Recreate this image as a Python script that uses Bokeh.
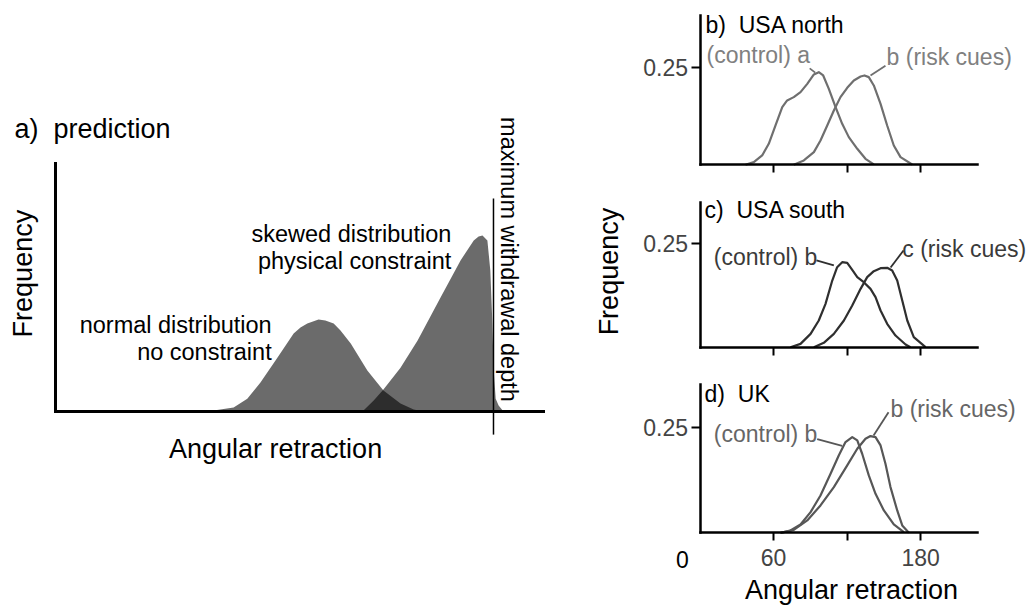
import math
from bokeh.plotting import figure
from bokeh.models import Range1d, FixedTicker, Label
from bokeh.layouts import row, column
from bokeh.embed import file_html
from bokeh.resources import INLINE

FONT = "Liberation Sans"
GAP = "\u00a0 "  # wide gap after panel letters

# ---------------- data ----------------
# panel a (schematic prediction): x in arbitrary units (0..100), y relative frequency (0..1)
a_normal_x = [30.7, 32.4, 36.5, 39.3, 42.0, 45.5, 48.8, 50.2, 51.6, 53.9, 55.3, 57.0, 58.4, 60.5, 63.9, 67.2, 70.7, 73.4, 75.4]
a_normal_y = [0.0, 0.004, 0.016, 0.052, 0.117, 0.218, 0.315, 0.339, 0.355, 0.371, 0.367, 0.355, 0.327, 0.274, 0.165, 0.085, 0.032, 0.008, 0.0]
a_skew_x = [62.9, 65.2, 67.2, 70.7, 74.2, 78.9, 83.0, 85.7, 86.7, 87.5, 88.5, 89.1, 89.5, 89.8, 90.2, 90.8, 91.8]
a_skew_y = [0.0, 0.044, 0.089, 0.177, 0.286, 0.46, 0.609, 0.69, 0.706, 0.71, 0.69, 0.569, 0.367, 0.165, 0.052, 0.024, 0.0]
a_max_depth = 89.75

# panel b: USA north
b_ctrl_x = [37.1, 43.9, 50.7, 56.1, 61.6, 67.1, 71.1, 76.5, 82.0, 87.5, 92.9, 96.9, 100.5, 105.1, 110.6, 116.0, 121.4, 128.3, 135.0, 141.8]
b_ctrl_y = [0.0, 0.0068, 0.0239, 0.0538, 0.1007, 0.1477, 0.1648, 0.1733, 0.1861, 0.2074, 0.2314, 0.2373, 0.2288, 0.1946, 0.1477, 0.105, 0.0709, 0.041, 0.0154, 0.0009]
b_risk_x = [76.5, 84.7, 92.9, 98.3, 103.8, 109.2, 114.6, 120.1, 125.5, 131.0, 134.2, 137.7, 141.8, 147.3, 152.7, 158.1, 163.6, 173.1]
b_risk_y = [0.0, 0.0111, 0.0324, 0.0623, 0.1007, 0.1392, 0.1733, 0.1972, 0.216, 0.2262, 0.2288, 0.2245, 0.2032, 0.1562, 0.1007, 0.0495, 0.0196, 0.0009]

# panel c: USA south
c_ctrl_x = [73.8, 82.0, 90.2, 96.9, 102.4, 107.9, 111.9, 116.0, 120.1, 124.2, 128.3, 133.6, 139.1, 143.2, 147.3, 152.7, 159.5, 167.7, 171.7]
c_ctrl_y = [0.0, 0.0081, 0.0323, 0.0646, 0.1049, 0.1614, 0.1937, 0.2058, 0.2042, 0.1872, 0.1695, 0.1574, 0.1412, 0.1211, 0.0888, 0.0565, 0.0282, 0.0065, 0.0]
c_risk_x = [92.9, 101.0, 109.2, 117.4, 124.2, 131.0, 136.4, 141.8, 147.3, 152.7, 156.8, 160.9, 165.0, 169.1, 174.4, 184.0]
c_risk_y = [0.0, 0.0105, 0.0323, 0.0646, 0.1009, 0.1412, 0.1695, 0.184, 0.1913, 0.1921, 0.1856, 0.1614, 0.113, 0.0646, 0.0242, 0.0]

# panel d: UK
d_ctrl_x = [65.7, 73.8, 82.0, 90.2, 98.3, 106.5, 113.2, 118.7, 124.2, 128.3, 132.3, 137.7, 143.2, 150.0, 158.1, 166.3]
d_ctrl_y = [0.0, 0.0056, 0.0199, 0.0492, 0.0889, 0.1405, 0.1842, 0.216, 0.2279, 0.2199, 0.1882, 0.1366, 0.0929, 0.0532, 0.0199, 0.0016]
d_risk_x = [65.7, 76.5, 87.5, 98.3, 109.2, 120.1, 128.3, 135.0, 139.1, 143.2, 147.3, 151.3, 155.4, 160.9, 165.0, 170.4]
d_risk_y = [0.0, 0.0071, 0.0294, 0.0651, 0.1088, 0.1604, 0.2001, 0.2239, 0.2303, 0.2279, 0.208, 0.1644, 0.1088, 0.0532, 0.0175, 0.0]

x_axis_max = 226
x_ticks_labelled = [60, 180]
x_ticks_unlabelled = [120]
y_ticks = [0.25]

# ---------------- helpers ----------------
def lab(p, x, y, text, size="23px", color="black", align="left", baseline="middle", angle=0.0):
    p.add_layout(Label(x=x, y=y, text=text, text_font=FONT, text_font_size=size, text_color=color,
                       text_align=align, text_baseline=baseline, angle=angle))


def make_fig(width, height, xr, yr):
    p = figure(width=width, height=height, x_range=Range1d(*xr), y_range=Range1d(*yr),
               min_border=0, min_border_left=0, min_border_right=0, min_border_top=0, min_border_bottom=0,
               output_backend="svg", toolbar_location=None)
    p.outline_line_color = None
    p.grid.visible = False
    p.background_fill_color = "white"
    p.border_fill_color = "white"
    return p


def style_axes(p, lw, xbounds, ybounds):
    p.xaxis.fixed_location = 0
    p.yaxis.fixed_location = 0
    p.xaxis.bounds = xbounds
    p.yaxis.bounds = ybounds
    for ax in (p.xaxis, p.yaxis):
        ax.axis_line_width = lw
        ax.axis_line_color = "black"
        ax.axis_line_cap = "square"
        ax.major_label_text_font = FONT
        ax.major_tick_in = 0
        ax.minor_tick_in = 0
        ax.major_tick_line_width = 2
        ax.minor_tick_line_width = 2
        ax.major_tick_line_color = "black"
        ax.minor_tick_line_color = "black"


# ---------------- panel a ----------------
pa = make_fig(580, 608, (-11.27, 107.58), (-0.794, 1.657))
style_axes(pa, 3, (0, 100), (0, 1))
for ax in (pa.xaxis, pa.yaxis):
    ax.ticker = FixedTicker(ticks=[], minor_ticks=[])

pa.varea(x=a_normal_x, y1=0, y2=a_normal_y, fill_color="black", fill_alpha=0.58)
pa.varea(x=a_skew_x, y1=0, y2=a_skew_y, fill_color="black", fill_alpha=0.58)
pa.segment(x0=[a_max_depth], y0=[-0.093], x1=[a_max_depth], y1=[0.859], line_color="black", line_width=1.5)

lab(pa, -8.4, 1.141, "a)" + GAP + "prediction", size="27px")
lab(pa, -6.76, 0.556, "Frequency", size="27px", align="center", angle=math.pi / 2)
lab(pa, 45.1, -0.149, "Angular retraction", size="27px", align="center")
lab(pa, 81.1, 0.714, "skewed distribution", size="23.5px", align="right")
lab(pa, 81.1, 0.605, "physical constraint", size="23.5px", align="right")
lab(pa, 44.3, 0.347, "normal distribution", size="23.5px", align="right")
lab(pa, 44.3, 0.24, "no constraint", size="23.5px", align="right")
lab(pa, 93.0, 0.613, "maximum withdrawal depth", size="23.5px", align="center", angle=-math.pi / 2)


# ---------------- right panels ----------------
RX = (-97.5, 268.0)


def right_panel(height, yr, ymax, show_xlabels):
    p = make_fig(448, height, RX, yr)
    style_axes(p, 2.5, (0, x_axis_max), (0, ymax))
    if show_xlabels:
        p.xaxis.ticker = FixedTicker(ticks=x_ticks_labelled, minor_ticks=x_ticks_unlabelled)
        p.xaxis.major_label_text_font_size = "23px"
        p.xaxis.major_label_standoff = 8
    else:
        p.xaxis.ticker = FixedTicker(ticks=[], minor_ticks=x_ticks_labelled + x_ticks_unlabelled)
    p.xaxis.major_tick_out = 8
    p.xaxis.minor_tick_out = 8
    p.yaxis.ticker = FixedTicker(ticks=y_ticks, minor_ticks=[])
    p.yaxis.major_tick_out = 9
    p.yaxis.major_label_text_font_size = "23px"
    p.yaxis.major_label_standoff = 3
    return p


LW = 2.2
# b) USA north
pb = right_panel(183, (-0.0479, 0.4208), 0.382, False)
col_b_line, col_b_text = "#6f6f6f", "#808080"
pb.line(b_ctrl_x, b_ctrl_y, line_color=col_b_line, line_width=LW, line_join="round")
pb.line(b_risk_x, b_risk_y, line_color=col_b_line, line_width=LW, line_join="round")
pb.segment(x0=[89.5, 139.1], y0=[0.247, 0.2286], x1=[94.0, 151.3], y1=[0.236, 0.254],
           line_color=col_b_line, line_width=1.8)
lab(pb, 4.5, 0.357, "b)" + GAP + "USA north")
lab(pb, 5.3, 0.28, "(control) a", color=col_b_text)
lab(pb, 152.2, 0.275, "b (risk cues)", color=col_b_text)

# c) USA south
pc = right_panel(182, (-0.0443, 0.3962), 0.351, False)
col_c_line, col_c_text = "#2f2f2f", "#3a3a3a"
pc.line(c_ctrl_x, c_ctrl_y, line_color=col_c_line, line_width=LW, line_join="round")
pc.line(c_risk_x, c_risk_y, line_color=col_c_line, line_width=LW, line_join="round")
pc.segment(x0=[95.0, 155.5], y0=[0.210, 0.193], x1=[109.2, 166.0], y1=[0.198, 0.234],
           line_color=col_c_line, line_width=1.8)
lab(pc, 3.7, 0.331, "c)" + GAP + "USA south")
lab(pc, 11.3, 0.2195, "(control) b", color=col_c_text)
lab(pc, 165.0, 0.238, "c (risk cues)", color=col_c_text)
lab(pc, -74.6, 0.183, "Frequency", size="27px", align="center", angle=math.pi / 2)

# d) UK
pd_ = right_panel(243, (-0.1802, 0.3983), 0.353, True)
col_d_line, col_d_text = "#575757", "#666666"
pd_.line(d_ctrl_x, d_ctrl_y, line_color=col_d_line, line_width=LW, line_join="round")
pd_.line(d_risk_x, d_risk_y, line_color=col_d_line, line_width=LW, line_join="round")
pd_.segment(x0=[95.6, 141.6], y0=[0.223, 0.2317], x1=[116.0, 153.8], y1=[0.207, 0.287],
            line_color=col_d_line, line_width=1.8)
lab(pd_, 3.7, 0.331, "d)" + GAP + "UK")
lab(pd_, 11.3, 0.2357, "(control) b", color=col_d_text)
lab(pd_, 155.4, 0.295, "b (risk cues)", color=col_d_text)
lab(pd_, -14.3, -0.0636, "0", align="center")
lab(pd_, 123.6, -0.1365, "Angular retraction", size="27px", align="center")

layout = row(pa, column(pb, pc, pd_))
open("out.html", "w").write(file_html(layout, INLINE))
